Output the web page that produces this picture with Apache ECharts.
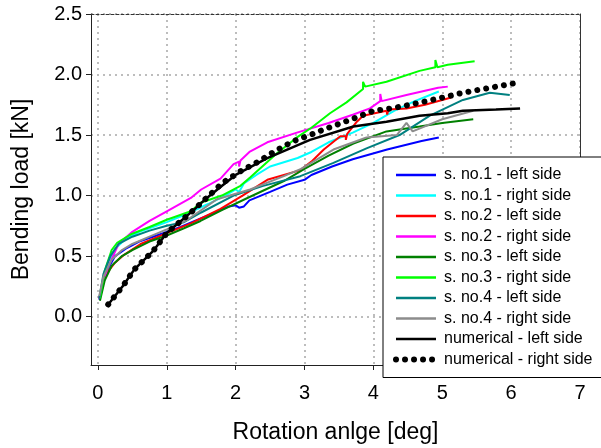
<!DOCTYPE html>
<html>
<head>
<meta charset="utf-8">
<script src="https://cdn.jsdelivr.net/npm/echarts@6/dist/echarts.min.js"></script>
<style>
  html, body { margin: 0; padding: 0; background: #fff; }
  #chart { width: 601px; height: 448px; }
</style>
</head>
<body>
<div id="chart"></div>
<script>
// measured curves, [rotation deg, load kN]
var s1Left = [[0.02,0.14],[0.08,0.28],[0.15,0.4],[0.25,0.5],[0.4,0.56],[0.6,0.62],[0.8,0.66],[1.0,0.7],[1.2,0.74],[1.45,0.8],[1.7,0.86],[1.9,0.91],[2.0,0.92],[2.05,0.9],[2.12,0.91],[2.2,0.96],[2.5,1.03],[2.75,1.09],[3.0,1.13],[3.1,1.17],[3.4,1.24],[3.7,1.3],[4.2,1.38],[4.7,1.45],[4.95,1.48]];
var s1Right = [[0.02,0.15],[0.08,0.32],[0.15,0.45],[0.25,0.56],[0.4,0.64],[0.6,0.7],[0.8,0.74],[1.0,0.78],[1.3,0.85],[1.6,0.93],[1.85,1.0],[2.0,1.05],[2.05,1.03],[2.12,1.1],[2.3,1.17],[2.5,1.24],[2.9,1.31],[3.1,1.36],[3.35,1.44],[3.7,1.52],[4.0,1.6],[4.3,1.7],[4.6,1.78],[4.95,1.86]];
var s2Left = [[0.02,0.15],[0.09,0.33],[0.24,0.44],[0.38,0.51],[0.62,0.6],[1.0,0.69],[1.35,0.77],[1.78,0.89],[2.1,1.0],[2.46,1.13],[2.94,1.21],[3.1,1.28],[3.28,1.38],[3.52,1.49],[3.6,1.49],[3.6,1.46],[3.62,1.51],[3.76,1.61],[3.85,1.66],[4.19,1.7],[4.2,1.67],[4.22,1.71],[4.48,1.72],[4.75,1.75],[5.13,1.81]];
var s2Right = [[0.02,0.15],[0.14,0.4],[0.3,0.6],[0.5,0.7],[0.75,0.79],[1.0,0.87],[1.35,0.98],[1.5,1.05],[1.78,1.14],[1.97,1.26],[2.05,1.28],[2.05,1.24],[2.07,1.29],[2.2,1.36],[2.46,1.44],[2.89,1.52],[3.35,1.6],[3.71,1.67],[3.95,1.72],[4.1,1.78],[4.1,1.84],[4.12,1.78],[4.48,1.83],[4.94,1.89],[5.08,1.9]];
var s3Left = [[0.03,0.13],[0.1,0.3],[0.2,0.42],[0.35,0.5],[0.5,0.55],[0.75,0.62],[1.0,0.67],[1.25,0.73],[1.49,0.79],[1.8,0.88],[2.21,0.99],[2.7,1.12],[3.0,1.22],[3.35,1.33],[3.71,1.43],[4.19,1.53],[4.67,1.57],[5.0,1.6],[5.45,1.63]];
var s3Right = [[0.03,0.15],[0.1,0.38],[0.2,0.55],[0.28,0.61],[0.48,0.68],[0.75,0.74],[1.0,0.8],[1.35,0.87],[1.49,0.94],[1.8,1.0],[2.07,1.08],[2.21,1.15],[2.6,1.35],[2.89,1.48],[3.1,1.56],[3.37,1.68],[3.61,1.77],[3.85,1.88],[3.85,1.94],[3.88,1.9],[4.19,1.94],[4.67,2.03],[4.9,2.06],[4.9,2.12],[4.93,2.06],[5.08,2.08],[5.47,2.11]];
var s4Left = [[0.02,0.15],[0.08,0.35],[0.18,0.5],[0.3,0.6],[0.5,0.66],[0.75,0.71],[1.0,0.75],[1.25,0.78],[1.5,0.86],[1.97,1.0],[2.4,1.08],[2.94,1.16],[3.42,1.27],[3.9,1.39],[4.38,1.5],[4.82,1.66],[5.3,1.79],[5.69,1.85],[5.98,1.83]];
var s4Right = [[0.02,0.17],[0.08,0.33],[0.2,0.47],[0.35,0.55],[0.5,0.6],[0.75,0.66],[1.0,0.72],[1.3,0.8],[1.73,0.97],[2.21,1.05],[2.7,1.16],[2.95,1.22],[3.42,1.38],[3.9,1.48],[4.34,1.5],[4.48,1.6],[4.57,1.53],[5.0,1.63],[5.45,1.7]];
// numerical model
var numLeft = [[0.15,0.1],[0.36,0.25],[0.53,0.39],[0.8,0.54],[1.0,0.69],[1.39,0.88],[1.56,0.97],[1.78,1.07],[2.0,1.17],[2.46,1.31],[3.08,1.46],[3.71,1.57],[4.19,1.61],[4.67,1.66],[5.08,1.68],[5.3,1.7],[5.78,1.71],[6.13,1.72]];
var numRight = [[0.15,0.1],[0.36,0.25],[0.53,0.39],[0.8,0.54],[1.0,0.69],[1.39,0.88],[1.56,0.97],[1.8,1.1],[2.07,1.2],[2.33,1.28],[2.58,1.37],[2.84,1.45],[3.08,1.5],[3.3,1.55],[3.73,1.64],[4.0,1.7],[4.26,1.72],[4.53,1.75],[4.77,1.78],[5.01,1.81],[5.3,1.85],[5.69,1.89],[6.07,1.93]];

var names = ['s. no.1 - left side','s. no.1 - right side','s. no.2 - left side','s. no.2 - right side',
  's. no.3 - left side','s. no.3 - right side','s. no.4 - left side','s. no.4 - right side',
  'numerical - left side','numerical - right side'];
var colors = ['#0000ff','#00ffff','#ff0000','#ff00ff','#008000','#00ff00','#008080','#8c8c8c','#000000','#000000'];
var curves = [s1Left, s1Right, s2Left, s2Right, s3Left, s3Right, s4Left, s4Right, numLeft, numRight];
var xTicks = [0,1,2,3,4,5,6,7];
var yTicks = [0,0.5,1,1.5,2,2.5];

var dotStyle = { color: '#000', width: 6, type: [0.01, 9], cap: 'round' };

var series = curves.map(function (d, i) {
  var ls = { color: colors[i], width: i === 8 ? 2.5 : 2 };
  if (i === 9) ls = dotStyle;
  return {
    name: names[i], type: 'line', data: d, showSymbol: false, symbol: 'none',
    smooth: false, lineStyle: ls, color: colors[i], z: 2 + i, animation: false
  };
});

var grid = { left: 91, right: 21, top: 14, bottom: 83, outerBoundsMode: 'none', containLabel: false };
var gridLine = { show: true, lineStyle: { color: '#bdbdbd', width: 2, type: [2, 4] } };
var font = 'Liberation Sans, Arial, sans-serif';

var chart = echarts.init(document.getElementById('chart'));
chart.setOption({
  animation: false,
  grid: grid,
  legend: {
    orient: 'vertical', left: 383, top: 157,
    backgroundColor: '#fff', borderColor: '#000', borderWidth: 1,
    padding: [10, 40, 10, 10],
    itemWidth: 40, itemHeight: 14, itemGap: 4.5,
    itemStyle: { color: 'transparent', borderWidth: 0, opacity: 0 },
    textStyle: { fontFamily: font, fontSize: 16, color: '#000', padding: [0, 0, 0, 3] },
    data: names.map(function (n, i) {
      if (i === 9) return { name: n, lineStyle: dotStyle };
      return { name: n, lineStyle: { width: 2.5 } };
    })
  },
  xAxis: [{
    type: 'value', min: -0.1, max: 7,
    name: 'Rotation anlge [deg]', nameLocation: 'middle', nameGap: 56,
    nameTextStyle: { fontFamily: font, fontSize: 23, color: '#000' },
    axisLine: { show: true, onZero: false, lineStyle: { color: '#222', width: 1 } },
    axisTick: { show: true, length: 5, customValues: xTicks, lineStyle: { color: '#222' } },
    axisLabel: { customValues: xTicks, fontFamily: font, fontSize: 20, color: '#000', margin: 18 },
    splitLine: gridLine
  }, {
    type: 'value', min: -0.1, max: 7, position: 'top',
    axisLine: { show: true, onZero: false, lineStyle: { color: '#333', width: 1, type: [3, 2] } },
    axisTick: { show: false }, axisLabel: { show: false }, splitLine: { show: false }
  }],
  yAxis: [{
    type: 'value', min: -0.4, max: 2.5,
    name: 'Bending load [kN]', nameLocation: 'middle', nameGap: 58,
    nameTextStyle: { fontFamily: font, fontSize: 23, color: '#000' },
    axisLine: { show: true, onZero: false, lineStyle: { color: '#222', width: 1 } },
    axisTick: { show: true, length: 5, customValues: yTicks, lineStyle: { color: '#222' } },
    axisLabel: {
      customValues: yTicks, fontFamily: font, fontSize: 20, color: '#000', margin: 9,
      formatter: function (v) { return v.toFixed(1); }
    },
    splitLine: gridLine
  }, {
    type: 'value', min: -0.4, max: 2.5, position: 'right',
    axisLine: { show: true, onZero: false, lineStyle: { color: '#333', width: 1 } },
    axisTick: { show: false }, axisLabel: { show: false }, splitLine: { show: false }
  }],
  series: series
});
</script>
</body>
</html>
